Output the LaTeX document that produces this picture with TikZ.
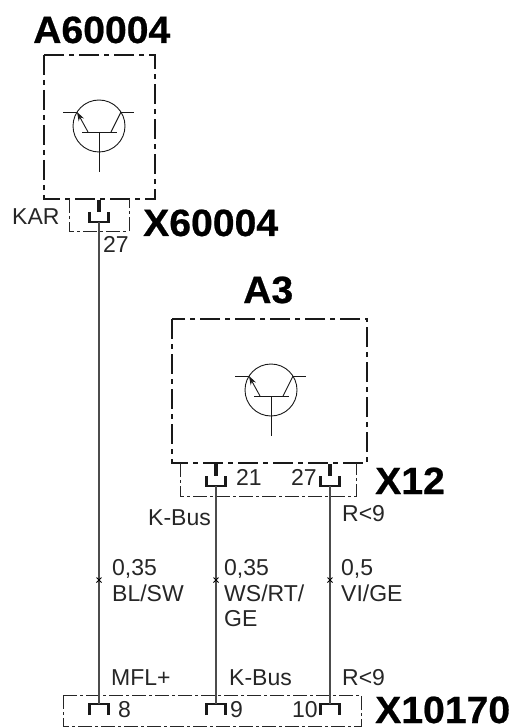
\documentclass[tikz,border=0pt]{standalone}
\usepackage{fontspec}
\setmainfont{Liberation Sans}
\newfontfamily\tagfont[FakeStretch=1.03,BoldFeatures={FakeBold=0.6}]{Liberation Sans}
\usetikzlibrary{arrows.meta}
\begin{document}
\begin{tikzpicture}[
    x=1pt, y=-1pt,
    unitbox/.style={line width=2.8pt, black!90, dash pattern=on 20pt off 5pt on 5pt off 5pt},
    plugbox/.style={line width=.8pt, black!85, dash pattern=on 14pt off 3pt on 3pt off 3pt},
    wire/.style={line width=1.2pt, black!70},
    thinline/.style={line width=.9pt, black!90},
    textlabel/.style={anchor=base west, inner sep=0pt, font=\fontsize{23}{23}\selectfont, black!85},
    taglabel/.style={anchor=base west, inner sep=0pt, font=\fontsize{38}{38}\selectfont\tagfont\bfseries},
    transistor/.pic={
        \draw [thinline] (0,0) circle (26);
        \draw [thinline] (-17,6) -- (18,6);
        \draw [thinline] (0,6) -- (0,46);
        \draw [thinline] (-36,-14) -- (-22,-14);
        \draw [thinline] (22,-14) -- (35,-14);
        \draw [thinline] (22,-14) -- (12,6);
        \draw [thinline, -{Stealth[length=9pt,width=6pt]}] (-11,6) -- (-22,-14);
    },
    socket/.pic={
        \draw [line width=3.2pt, black!90] (0,-12) -- (0,0);
        \draw [line width=2.2pt, black!90] (-9.5,0) -- (-9.5,10) -- (9.5,10) -- (9.5,0);
    },
    plug/.pic={
        \draw [line width=2.2pt, black!90] (-9.5,11) -- (-9.5,0) -- (9.5,0) -- (9.5,11);
    },
    tick/.pic={
        \draw [line width=.8pt] (-2.5,-2.5) -- (2.5,2.5) (-2.5,2.5) -- (2.5,-2.5);
    },
    ]
    \useasboundingbox (0,0) rectangle (516,727);

    % control units
    \draw [unitbox] (44,55) rectangle (155,199);
    \pic at (99,126) {transistor};
    \draw [unitbox] (172,319) rectangle (367,463);
    \pic at (271,390) {transistor};

    % connector outlines
    \draw [plugbox] (69,199) -- (69,231) -- (129,231) -- (129,199);
    \draw [plugbox] (180,463) -- (180,496) -- (356,496) -- (356,463);
    \draw [plugbox] (63,695) rectangle (361,726);

    % pins
    \pic at (99,212) {socket};
    \pic at (216,476) {socket};
    \pic at (330,476) {socket};
    \pic at (99,704) {plug};
    \pic at (216,704) {plug};
    \pic at (330,704) {plug};

    \coordinate (kar top) at (99,222);
    \coordinate (kar bottom) at (99,704);
    \coordinate (bus top) at (216,486);
    \coordinate (bus bottom) at (216,704);
    \coordinate (r9 top) at (330,486);
    \coordinate (r9 bottom) at (330,704);

    \draw [wire] (kar top) -- (kar bottom);
    \draw [wire] (bus top) -- (bus bottom);
    \draw [wire] (r9 top) -- (r9 bottom);

    \pic at (99,580) {tick};
    \pic at (216,580) {tick};
    \pic at (330,580) {tick};

    % component names
    \node [taglabel] (a60004) at (33,43) {A60004};
    \node [taglabel] (x60004) at (143,236) {X60004};
    \node [taglabel] (a3) at (243,303) {A3};
    \node [taglabel] (x12) at (375,494) {X12};
    \node [taglabel] (x10170) at (375,723) {X10170};

    % pin and wire texts
    \node [textlabel] (kar) at (12,224) {KAR};
    \node [textlabel] (pin27a) at (103,252) {27};
    \node [textlabel] (pin21) at (236,485) {21};
    \node [textlabel] (pin27b) at (291,485) {27};
    \node [textlabel] (busa) at (148,525) {K-Bus};
    \node [textlabel] (ra) at (342,521) {R<9};
    \node [textlabel] (sizea) at (112,575) {0,35};
    \node [textlabel] (coloura) at (112,601) {BL/SW};
    \node [textlabel] (sizeb) at (224,575) {0,35};
    \node [textlabel] (colourb) at (224,601) {WS/RT/};
    \node [textlabel] (colourc) at (224,626) {GE};
    \node [textlabel] (sized) at (341,575) {0,5};
    \node [textlabel] (colourd) at (341,601) {VI/GE};
    \node [textlabel] (mfl) at (111,685) {MFL+};
    \node [textlabel] (busb) at (229,685) {K-Bus};
    \node [textlabel] (rb) at (342,685) {R<9};
    \node [textlabel] (pin8) at (118,717) {8};
    \node [textlabel] (pin9) at (230,717) {9};
    \node [textlabel] (pin10) at (292,717) {10};
\end{tikzpicture}
\end{document}
